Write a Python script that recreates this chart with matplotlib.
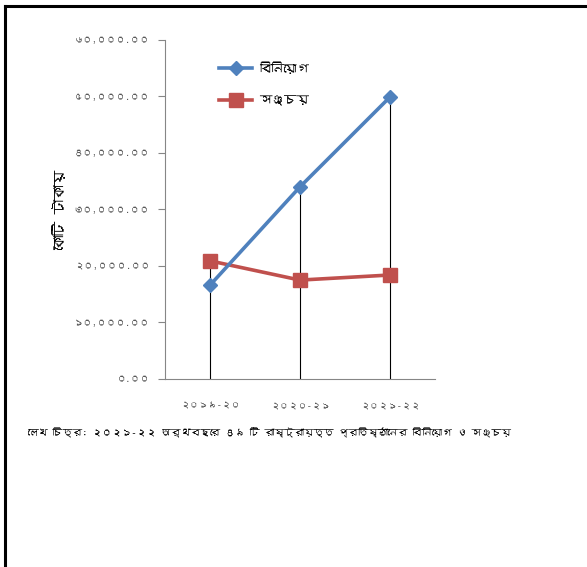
import matplotlib.pyplot as plt
from matplotlib import font_manager
from matplotlib.ft2font import FT2Font
from matplotlib.lines import Line2D


def find_bengali_families():
    # যেসব ফন্টে বাংলা অক্ষর (ক) আছে সেগুলো খুঁজে বের করা, মনোস্পেস শেষে
    found = []
    for entry in font_manager.fontManager.ttflist:
        try:
            cmap = FT2Font(entry.fname).get_charmap()
        except Exception:
            continue
        if 0x0995 in cmap and entry.name not in found:
            found.append(entry.name)
    return sorted(found, key=lambda n: 'Mono' in n)


def fit_size(fig, text, size_px, vertical=False):
    # লেখার দৈর্ঘ্য নির্দিষ্ট পিক্সেলে মেলাতে ফন্ট সাইজ ঠিক করা
    renderer = fig.canvas.get_renderer()
    for _ in range(2):
        box = text.get_window_extent(renderer)
        cur = box.height if vertical else box.width
        if cur > 0:
            text.set_fontsize(text.get_fontsize() * size_px / cur)


bengali = find_bengali_families()
plt.rcParams['font.family'] = bengali + ['DejaVu Sans']

# অর্থবছর ও মান (কোটি টাকা)
years = ['২০১৯-২০', '২০২০-২১', '২০২১-২২']
investment = [16600, 34000, 49900]
savings = [20900, 17500, 18400]
y_ticks = [0, 10000, 20000, 30000, 40000, 50000, 60000]
y_tick_labels = ['০.০০', '১০,০০০.০০', '২০,০০০.০০', '৩০,০০০.০০',
                 '৪০,০০০.০০', '৫০,০০০.০০', '৬০,০০০.০০']

fig = plt.figure(figsize=(5.87, 5.67), dpi=100)
ax = fig.add_axes([0.2811, 0.3316, 0.46, 0.598])

x = list(range(len(years)))

# প্রতিটি বছরের সর্বোচ্চ মান থেকে অক্ষ পর্যন্ত উল্লম্ব রেখা
for i in x:
    ax.plot([i, i], [0, max(investment[i], savings[i])], color='black', lw=0.8, zorder=1)

ax.plot(x, investment, color='#4F81BD', lw=2.6, marker='D', markersize=7,
        label='বিনিয়োগ', zorder=3)
ax.plot(x, savings, color='#C0504D', lw=2.6, marker='s', markersize=10,
        label='সঞ্চয়', zorder=2)

ax.set_xlim(-0.5, 2.5)
ax.set_ylim(0, 60000)
ax.set_xticks(x)
ax.set_xticklabels(years)
ax.set_yticks(y_ticks)
ax.set_yticklabels(y_tick_labels)

for side in ['top', 'right']:
    ax.spines[side].set_visible(False)
ax.spines['left'].set_color('#868686')
ax.spines['bottom'].set_color('#868686')
ax.tick_params(axis='y', colors='#868686', labelcolor='#595959', length=5, pad=6)
ax.tick_params(axis='x', length=0, labelcolor='#595959', pad=16)

ylab = ax.set_ylabel('কোটি টাকায়', fontweight='bold', va='center')
ax.yaxis.set_label_coords(-105 / 270, (379 - 210) / 339)

leg = ax.legend(loc='upper left', bbox_to_anchor=(0.16, 0.97), frameon=False,
                handlelength=2.6, handletextpad=0.6, labelspacing=1.75,
                prop={'size': 9})

caption = fig.text(28 / 587, 1 - 433 / 567,
                   'লেখ চিত্র: ২০২১-২২ অর্থবছরে ৪৯ টি রাষ্ট্রায়ত্ত প্রতিষ্ঠানের বিনিয়োগ ও সঞ্চয়',
                   fontweight='bold', va='center')

fig.canvas.draw()
fit_size(fig, caption, 480)
fit_size(fig, ylab, 80, vertical=True)
for lbl in ax.get_yticklabels():
    if lbl.get_text() == y_tick_labels[-1]:
        fit_size(fig, lbl, 76)
        ysize = lbl.get_fontsize()
for lbl in ax.get_xticklabels():
    if lbl.get_text() == years[0]:
        fit_size(fig, lbl, 60)
        xsize = lbl.get_fontsize()
ax.tick_params(axis='y', labelsize=ysize)
ax.tick_params(axis='x', labelsize=xsize)

# বাইরের ফ্রেম
fig.add_artist(Line2D([5 / 587, 1], [1 - 6 / 567, 1 - 6 / 567], color='black', lw=2.2))
fig.add_artist(Line2D([5 / 587, 5 / 587], [0, 1 - 6 / 567], color='black', lw=2.2))

fig.savefig('out.png', dpi=100)
